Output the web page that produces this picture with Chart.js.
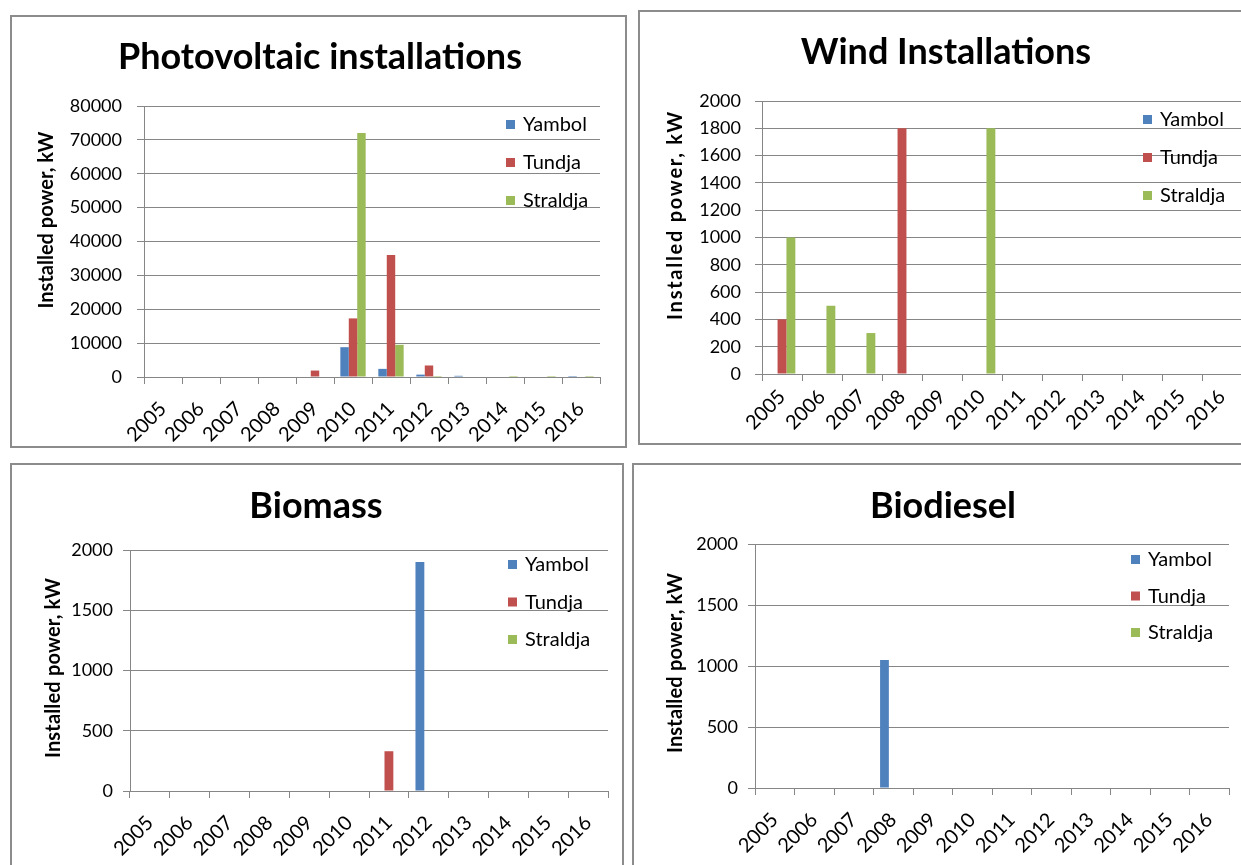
<!DOCTYPE html>
<html>
<head>
<meta charset="utf-8">
<script src="https://cdn.jsdelivr.net/npm/chart.js@4.4.0/dist/chart.umd.min.js"></script>
<style>
  body { margin: 0; width: 1241px; height: 865px; overflow: hidden; background: #fff; position: relative; }
  .box { position: absolute; border: 2px solid #8c8c8c; box-sizing: border-box; background: #fff; }
  .box canvas { position: absolute; left: 0; top: 0; }
</style>
</head>
<body>
<div class="box" id="box-pv"><canvas id="pv"></canvas></div>
<div class="box" id="box-wind"><canvas id="wind"></canvas></div>
<div class="box" id="box-biomass"><canvas id="biomass"></canvas></div>
<div class="box" id="box-biodiesel"><canvas id="biodiesel"></canvas></div>
<script>
// data (kW)
const years = ["2005", "2006", "2007", "2008", "2009", "2010", "2011", "2012", "2013", "2014", "2015", "2016"];
const regions = ["Yambol", "Tundja", "Straldja"];
const colors = ["#4f81bd", "#c0504d", "#9bbb59"];

const pvYambol   = [0, 0, 0, 0, 0, 8800, 2400, 700, 350, 0, 0, 300];
const pvTundja   = [0, 0, 0, 0, 1900, 17300, 36000, 3400, 0, 0, 0, 0];
const pvStraldja = [0, 0, 0, 0, 0, 72000, 9500, 300, 0, 300, 300, 300];

const windYambol   = [0, 0, 0, 0, 0, 0, 0, 0, 0, 0, 0, 0];
const windTundja   = [400, 0, 0, 1800, 0, 0, 0, 0, 0, 0, 0, 0];
const windStraldja = [1000, 500, 300, 0, 0, 1800, 0, 0, 0, 0, 0, 0];

const bioYambol   = [0, 0, 0, 0, 0, 0, 0, 1900, 0, 0, 0, 0];
const bioTundja   = [0, 0, 0, 0, 0, 0, 330, 0, 0, 0, 0, 0];
const bioStraldja = [0, 0, 0, 0, 0, 0, 0, 0, 0, 0, 0, 0];

const dieselYambol   = [0, 0, 0, 1050, 0, 0, 0, 0, 0, 0, 0, 0];
const dieselTundja   = [0, 0, 0, 0, 0, 0, 0, 0, 0, 0, 0, 0];
const dieselStraldja = [0, 0, 0, 0, 0, 0, 0, 0, 0, 0, 0, 0];

const FONT = "Lato, 'Open Sans', sans-serif";
const GRID = "#868686";
const Y_TITLE = "Installed power, kW";

// title, y axis title and the legend over the plot (Excel style)
const decor = {
    id: "decor",
    afterDraw(chart, args, opts) {
        const ctx = chart.ctx;
        ctx.save();
        ctx.fillStyle = "#000";
        ctx.font = "bold " + opts.titleSize + "px " + FONT;
        ctx.textAlign = "center";
        ctx.textBaseline = "middle";
        ctx.fillText(opts.title, opts.titleX, opts.titleY);

        // axis title: stretched with letter spacing where the original is wider
        ctx.save();
        ctx.font = "bold " + opts.yTitle.size + "px " + FONT;
        const w = ctx.measureText(Y_TITLE).width;
        if (opts.yTitle.len > w) {
            ctx.letterSpacing = ((opts.yTitle.len - w) / (Y_TITLE.length - 1)).toFixed(2) + "px";
        }
        ctx.translate(opts.yTitle.x, opts.yTitle.y);
        ctx.rotate(-Math.PI / 2);
        ctx.fillText(Y_TITLE, 0, 0);
        ctx.restore();

        ctx.font = opts.legendSize + "px " + FONT;
        ctx.textAlign = "left";
        chart.data.datasets.forEach((ds, i) => {
            const y = opts.legendY + i * opts.legendStep;
            ctx.fillStyle = ds.backgroundColor;
            ctx.fillRect(opts.legendX, y - 5, 9, 9);
            ctx.fillStyle = "#000";
            ctx.fillText(ds.label, opts.legendX + 17, y);
        });
        ctx.restore();
    }
};

function makeChart(id, cfg) {
    const box = document.getElementById("box-" + id);
    box.style.left = cfg.box.x + "px";
    box.style.top = cfg.box.y + "px";
    box.style.width = cfg.box.w + "px";
    box.style.height = cfg.box.h + "px";

    const ox = cfg.box.x + 2, oy = cfg.box.y + 2;
    const cw = cfg.box.w - 4, ch = cfg.box.h - 4;
    const canvas = document.getElementById(id);
    canvas.width = cw;
    canvas.height = ch;

    new Chart(canvas, {
        type: "bar",
        data: {
            labels: years,
            datasets: cfg.series.map((s, i) => ({
                label: regions[i],
                data: s,
                backgroundColor: colors[i],
                categoryPercentage: 0.667,
                barPercentage: 1
            }))
        },
        options: {
            responsive: false,
            animation: false,
            layout: { padding: { left: 0, top: cfg.plot.t - oy, right: ox + cw - cfg.plot.r, bottom: 0 } },
            plugins: {
                legend: { display: false },
                tooltip: { enabled: false },
                decor: {
                    title: cfg.title, titleSize: 36,
                    titleX: cfg.titleX - ox, titleY: cfg.titleY - oy,
                    yTitle: { x: cfg.yTitle.x - ox, y: cfg.yTitle.y - oy, len: cfg.yTitle.len, size: 20 },
                    legendX: cfg.legend.x - ox, legendY: cfg.legend.y - oy,
                    legendStep: cfg.legend.step, legendSize: 20
                }
            },
            scales: {
                x: {
                    grid: { drawOnChartArea: false, offset: true, tickLength: 7, color: GRID },
                    border: { color: GRID },
                    ticks: {
                        autoSkip: false, minRotation: 45, maxRotation: 45,
                        font: { family: FONT, size: 20 }, color: "#000", padding: cfg.xPad
                    },
                    afterFit: (s) => { s.height = oy + ch - cfg.plot.b; }
                },
                y: {
                    min: 0,
                    max: cfg.yMax,
                    ticks: { stepSize: cfg.yStep, font: { family: FONT, size: 18 }, color: "#000", padding: cfg.yPad, callback: (v) => String(v) },
                    grid: { color: GRID, tickLength: 7 },
                    border: { color: GRID },
                    afterFit: (s) => { s.width = cfg.plot.l - ox; }
                }
            }
        },
        plugins: [decor]
    });
}

makeChart("pv", {
    title: "Photovoltaic installations", titleX: 320, titleY: 57,
    box: { x: 10, y: 15, w: 617, h: 433 },
    plot: { l: 144, t: 106, r: 600, b: 377 },
    legend: { x: 506, y: 125, step: 38 },
    yTitle: { x: 47, y: 220, len: 175 },
    yMax: 80000, yStep: 10000, xPad: 13, yPad: 15,
    series: [pvYambol, pvTundja, pvStraldja]
});

makeChart("wind", {
    title: "Wind Installations", titleX: 946, titleY: 52,
    box: { x: 638, y: 10, w: 620, h: 435 },
    plot: { l: 762, t: 101, r: 1242, b: 374 },
    legend: { x: 1143, y: 120, step: 38 },
    yTitle: { x: 676, y: 215, len: 208 },
    yMax: 2000, yStep: 200, xPad: 4, yPad: 14,
    series: [windYambol, windTundja, windStraldja]
});

makeChart("biomass", {
    title: "Biomass", titleX: 316, titleY: 506,
    box: { x: 10, y: 463, w: 614, h: 412 },
    plot: { l: 130, t: 550, r: 608, b: 791 },
    legend: { x: 508, y: 565, step: 37.5 },
    yTitle: { x: 54, y: 668, len: 180 },
    yMax: 2000, yStep: 500, xPad: 13, yPad: 10,
    series: [bioYambol, bioTundja, bioStraldja]
});

makeChart("biodiesel", {
    title: "Biodiesel", titleX: 943, titleY: 506,
    box: { x: 632, y: 463, w: 622, h: 412 },
    plot: { l: 755, t: 544, r: 1229, b: 788 },
    legend: { x: 1131, y: 560, step: 36.5 },
    yTitle: { x: 676, y: 663, len: 180 },
    yMax: 2000, yStep: 500, xPad: 13, yPad: 10,
    series: [dieselYambol, dieselTundja, dieselStraldja]
});
</script>
</body>
</html>
